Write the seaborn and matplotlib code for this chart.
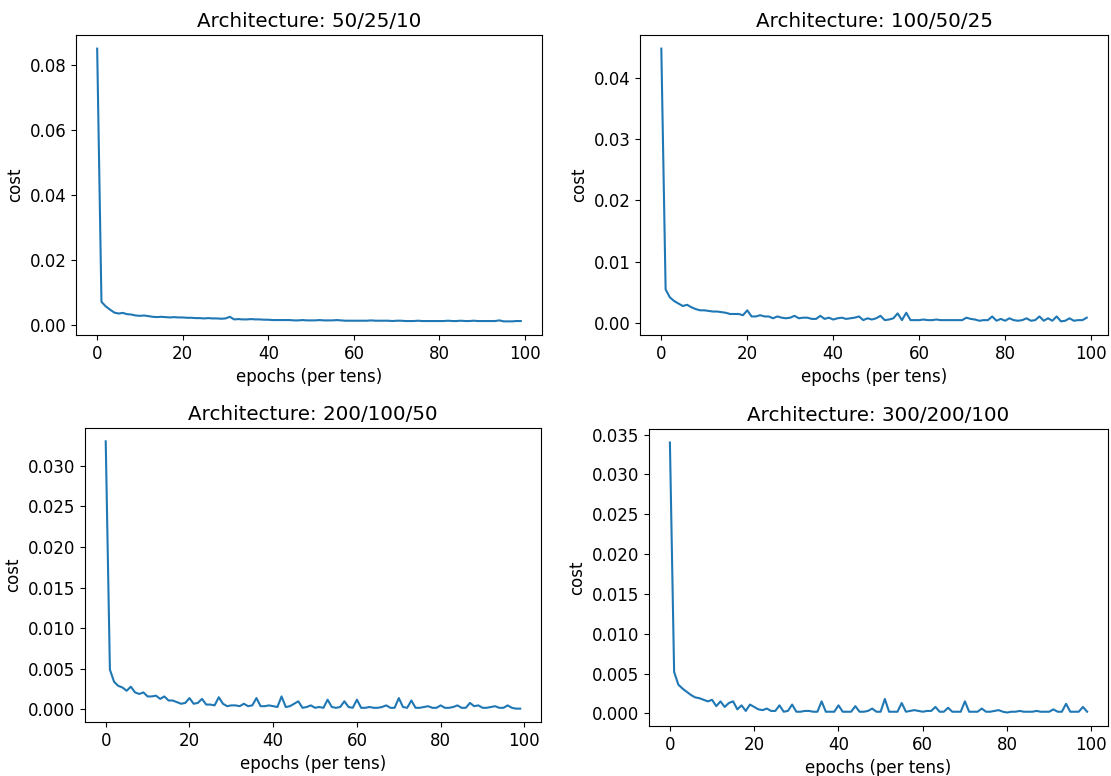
import numpy as np
import matplotlib
matplotlib.use('Agg')
import matplotlib.pyplot as plt
import seaborn as sns

epochs = np.arange(100)

titles = ['Architecture: 50/25/10', 'Architecture: 100/50/25',
          'Architecture: 200/100/50', 'Architecture: 300/200/100']

cost_50_25_10 = [
    0.0849, 0.0072, 0.0058, 0.0048, 0.0039, 0.0036, 0.0038, 0.0034, 0.0033, 0.0030,
    0.0029, 0.0030, 0.0028, 0.0026, 0.0025, 0.0026, 0.0025, 0.0024, 0.0025, 0.0024,
    0.0024, 0.0023, 0.0023, 0.0022, 0.0022, 0.0021, 0.0022, 0.0021, 0.0021, 0.0020,
    0.0021, 0.0026, 0.0018, 0.0019, 0.0018, 0.0018, 0.0019, 0.0018, 0.0018, 0.0017,
    0.0017, 0.0016, 0.0016, 0.0016, 0.0016, 0.0016, 0.0015, 0.0015, 0.0016, 0.0015,
    0.0015, 0.0015, 0.0016, 0.0015, 0.0015, 0.0015, 0.0016, 0.0015, 0.0014, 0.0014,
    0.0014, 0.0014, 0.0014, 0.0014, 0.0015, 0.0014, 0.0014, 0.0014, 0.0014, 0.0013,
    0.0014, 0.0014, 0.0013, 0.0013, 0.0013, 0.0014, 0.0013, 0.0013, 0.0013, 0.0013,
    0.0013, 0.0013, 0.0014, 0.0013, 0.0013, 0.0014, 0.0013, 0.0013, 0.0014, 0.0013,
    0.0013, 0.0013, 0.0013, 0.0013, 0.0015, 0.0012, 0.0012, 0.0012, 0.0013, 0.0013,
]

cost_100_50_25 = [
    0.0447, 0.0055, 0.0042, 0.0036, 0.0032, 0.0028, 0.0030, 0.0026, 0.0023, 0.0021,
    0.0021, 0.0020, 0.0019, 0.0019, 0.0018, 0.0017, 0.0015, 0.0015, 0.0015, 0.0013,
    0.0021, 0.0011, 0.0011, 0.0013, 0.0011, 0.0011, 0.0008, 0.0011, 0.0009, 0.0008,
    0.0009, 0.0012, 0.0008, 0.0009, 0.0009, 0.0007, 0.0007, 0.0012, 0.0007, 0.0009,
    0.0006, 0.0008, 0.0009, 0.0007, 0.0008, 0.0009, 0.0011, 0.0005, 0.0008, 0.0006,
    0.0008, 0.0012, 0.0005, 0.0006, 0.0008, 0.0016, 0.0005, 0.0017, 0.0005, 0.0005,
    0.0005, 0.0006, 0.0005, 0.0005, 0.0006, 0.0005, 0.0005, 0.0005, 0.0005, 0.0005,
    0.0005, 0.0009, 0.0007, 0.0006, 0.0004, 0.0005, 0.0005, 0.0011, 0.0004, 0.0007,
    0.0004, 0.0008, 0.0005, 0.0004, 0.0005, 0.0008, 0.0004, 0.0005, 0.0011, 0.0004,
    0.0008, 0.0004, 0.0011, 0.0003, 0.0004, 0.0008, 0.0004, 0.0005, 0.0005, 0.0009,
]

cost_200_100_50 = [
    0.0330, 0.0049, 0.0034, 0.0029, 0.0027, 0.0023, 0.0028, 0.0021, 0.0019, 0.0021,
    0.0016, 0.0016, 0.0017, 0.0013, 0.0016, 0.0011, 0.0011, 0.0009, 0.0007, 0.0008,
    0.0014, 0.0007, 0.0008, 0.0013, 0.0006, 0.0006, 0.0005, 0.0015, 0.0007, 0.0004,
    0.0005, 0.0005, 0.0004, 0.0007, 0.0004, 0.0005, 0.0014, 0.0004, 0.0004, 0.0005,
    0.0004, 0.0003, 0.0016, 0.0003, 0.0004, 0.0007, 0.0010, 0.0002, 0.0003, 0.0005,
    0.0002, 0.0003, 0.0002, 0.0012, 0.0003, 0.0002, 0.0003, 0.0010, 0.0003, 0.0002,
    0.0012, 0.0002, 0.0002, 0.0003, 0.0002, 0.0002, 0.0003, 0.0005, 0.0002, 0.0002,
    0.0014, 0.0003, 0.0002, 0.0011, 0.0002, 0.0002, 0.0003, 0.0004, 0.0002, 0.0002,
    0.0005, 0.0002, 0.0002, 0.0003, 0.0005, 0.0002, 0.0002, 0.0008, 0.0004, 0.0005,
    0.0002, 0.0002, 0.0003, 0.0004, 0.0002, 0.0002, 0.0005, 0.0002, 0.0001, 0.0001,
]

cost_300_200_100 = [
    0.0340, 0.0052, 0.0036, 0.0031, 0.0027, 0.0023, 0.0020, 0.0019, 0.0017, 0.0015,
    0.0017, 0.0009, 0.0015, 0.0008, 0.0013, 0.0015, 0.0005, 0.0010, 0.0003, 0.0011,
    0.0008, 0.0005, 0.0004, 0.0006, 0.0003, 0.0003, 0.0010, 0.0002, 0.0003, 0.0011,
    0.0002, 0.0002, 0.0003, 0.0003, 0.0002, 0.0002, 0.0015, 0.0002, 0.0002, 0.0002,
    0.0010, 0.0002, 0.0002, 0.0002, 0.0009, 0.0002, 0.0002, 0.0003, 0.0006, 0.0002,
    0.0002, 0.0018, 0.0002, 0.0002, 0.0002, 0.0013, 0.0002, 0.0003, 0.0004, 0.0003,
    0.0002, 0.0003, 0.0003, 0.0008, 0.0002, 0.0002, 0.0007, 0.0002, 0.0002, 0.0002,
    0.0015, 0.0002, 0.0002, 0.0002, 0.0006, 0.0002, 0.0002, 0.0003, 0.0004, 0.0002,
    0.0001, 0.0002, 0.0002, 0.0003, 0.0002, 0.0002, 0.0002, 0.0003, 0.0002, 0.0002,
    0.0002, 0.0005, 0.0002, 0.0002, 0.0012, 0.0002, 0.0002, 0.0002, 0.0008, 0.0002,
]

all_costs = [cost_50_25_10, cost_100_50_25, cost_200_100_50, cost_300_200_100]

plt.rcParams['font.family'] = ['DejaVu Sans']
plt.rcParams['font.size'] = 12
plt.rcParams['axes.titlesize'] = 14.3

fig, axes = plt.subplots(2, 2, figsize=(11.11, 7.76), dpi=100)

boxes = [[0.0684, 0.5683, 0.4194, 0.3866],
         [0.5761, 0.5683, 0.4212, 0.3866],
         [0.0765, 0.0696, 0.4104, 0.3789],
         [0.5842, 0.0644, 0.4131, 0.3827]]

for ax, title, cost, box in zip(axes.flat, titles, all_costs, boxes):
    sns.lineplot(x=epochs, y=cost, ax=ax, color='#1f77b4', linewidth=1.5)
    ax.set_title(title)
    ax.set_xlabel('epochs (per tens)')
    ax.set_ylabel('cost')
    ax.set_position(box)

plt.savefig('out.png')
